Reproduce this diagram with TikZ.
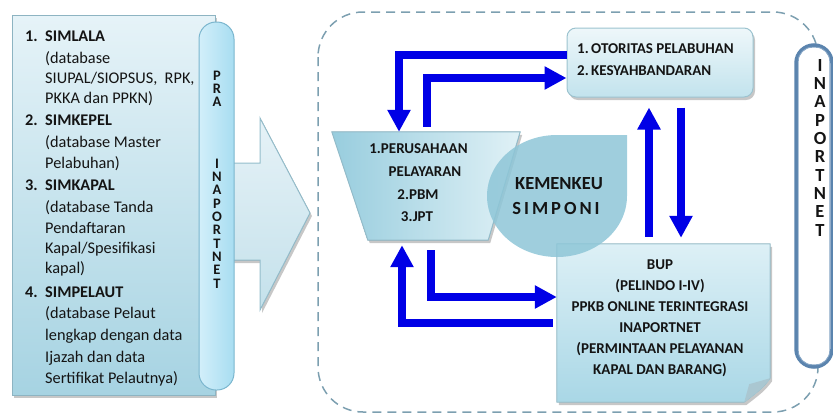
\documentclass[tikz,border=0pt]{standalone}
\usepackage{fontspec}
\setmainfont{Carlito}
\usetikzlibrary{arrows.meta,calc,shadows}
\definecolor{lbA}{HTML}{E6F3F8}
\definecolor{lbB}{HTML}{A6D3E2}
\definecolor{lbBorder}{HTML}{8DB4C2}
\definecolor{pillA}{HTML}{D2EFFA}
\definecolor{pillB}{HTML}{A8DDF1}
\definecolor{pillBorder}{HTML}{7BB6CE}
\definecolor{arrA}{HTML}{E6F2F7}
\definecolor{arrB}{HTML}{C4E1EB}
\definecolor{arrBorder}{HTML}{94BDCB}
\definecolor{otoA}{HTML}{EEF7FA}
\definecolor{otoB}{HTML}{C2E3ED}
\definecolor{otoBorder}{HTML}{9CC3CF}
\definecolor{trapA}{HTML}{98CDDE}
\definecolor{trapB}{HTML}{E0F1F6}
\definecolor{circC}{HTML}{8EC6D7}
\definecolor{bupA}{HTML}{DDF0F6}
\definecolor{bupB}{HTML}{A9D7E6}
\definecolor{bupBorder}{HTML}{A0C6D2}
\definecolor{arrowblue}{HTML}{0000E6}
\definecolor{dashc}{HTML}{7C9FB0}
\definecolor{ringc}{HTML}{5B84AE}
\definecolor{ringin}{HTML}{86A6C6}
\definecolor{txt}{HTML}{141414}
\tikzset{
  barrow/.style={draw=arrowblue, line width=8pt, line join=miter,
    -{Triangle[width=22pt,length=22pt]}},
  shad/.style={drop shadow={shadow xshift=2pt, shadow yshift=-3pt, fill=black, opacity=0.22}},
  lefttxt/.style={anchor=base west, text=txt, font=\fontsize{16.3}{18}\selectfont, inner sep=0pt},
  leftbold/.style={lefttxt, font=\bfseries\fontsize{16.3}{18}\selectfont},
  boldtxt/.style={text=txt, font=\bfseries\fontsize{15}{18}\selectfont, inner sep=0pt},
  pilltxt/.style={boldtxt, anchor=base, text height=9pt, text depth=0pt, font=\bfseries\fontsize{14.5}{14}\selectfont},
  ringtxt/.style={boldtxt, anchor=base, text height=11.5pt, text depth=0pt, font=\bfseries\fontsize{18.5}{18}\selectfont},
}
\begin{document}
\begin{tikzpicture}[x=1pt,y=-1pt]
\useasboundingbox (0,0) rectangle (833,416);

% dashed region
\draw[dashc, line width=1.5pt, dash pattern=on 9pt off 6pt, rounded corners=45pt] (318,12) rectangle (818,412);

% left list box
\node[shad, draw=lbBorder, line width=1pt, top color=lbA, bottom color=lbB,
      minimum width=203pt, minimum height=380pt, inner sep=0pt] (lbox) at (113.5,205) {};

\node[leftbold] (n1) at (25,41) {1.};
\node[leftbold] (l1) at (45,41) {SIMLALA};
\node[lefttxt] (l2) at (45,63) {(database};
\node[lefttxt] (l3) at (45,83) {SIUPAL/SIOPSUS,\ \ RPK,};
\node[lefttxt] (l4) at (45,103) {PKKA dan PPKN)};
\node[leftbold] (n2) at (25,125) {2.};
\node[leftbold] (l5) at (45,125) {SIMKEPEL};
\node[lefttxt] (l6) at (45,147) {(database Master};
\node[lefttxt] (l7) at (45,168) {Pelabuhan)};
\node[leftbold] (n3) at (25,190) {3.};
\node[leftbold] (l8) at (45,190) {SIMKAPAL};
\node[lefttxt] (l9) at (45,212) {(database Tanda};
\node[lefttxt] (l10) at (45,233) {Pendaftaran};
\node[lefttxt] (l11) at (45,253) {Kapal/Spesifikasi};
\node[lefttxt] (l12) at (45,273) {kapal)};
\node[leftbold] (n4) at (25,297) {4.};
\node[leftbold] (l13) at (45,297) {SIMPELAUT};
\node[lefttxt] (l14) at (45,318) {(database Pelaut};
\node[lefttxt] (l15) at (45,340) {lengkap dengan data};
\node[lefttxt] (l16) at (45,362) {Ijazah dan data};
\node[lefttxt] (l17) at (45,383) {Sertifikat Pelautnya)};

% big block arrow
\filldraw[shad, draw=arrBorder, line width=1pt, top color=arrA, bottom color=arrB]
  (225,163) -- (260,163) -- (260,118) -- (310,213) -- (260,310) -- (260,260) -- (225,260) -- cycle;

% PRA INAPORTNET pill
\node[draw=pillBorder, line width=1pt, left color=pillA, right color=pillB,
      rounded corners=17pt, minimum width=35pt, minimum height=368pt, inner sep=0pt] (prapill) at (216.5,206) {};
\foreach \ch/\yy [count=\k] in {P/80,R/93.3,A/106.6,I/168,N/181.3,A/194.6,P/208,O/221.3,R/234.6,T/248,N/261.3,E/274.6,T/288}
  \node[pilltxt] (pra\k) at (217,\yy) {\ch};

% right INAPORTNET pill
\node[draw=ringc, line width=3.5pt, fill=white, rounded corners=18pt,
      minimum width=36pt, minimum height=322pt, inner sep=0pt] (inap) at (814,206) {};
\draw[ringin, line width=0.9pt, rounded corners=14pt]
  ([shift={(4pt,-4pt)}]inap.north west) rectangle ([shift={(-4pt,4pt)}]inap.south east);
\foreach \ch/\yy [count=\k] in {I/71,N/89.3,A/107.6,P/126,O/144.3,R/162.6,T/181,N/199.3,E/217.6,T/236}
  \node[ringtxt] (ina\k) at (820,\yy) {\ch};

% Otoritas box
\node[shad, draw=otoBorder, line width=1pt, top color=otoA, bottom color=otoB, rounded corners=9pt,
      minimum width=186pt, minimum height=69pt, inner sep=0pt] (oto) at (660,62.5) {};
\node[boldtxt, anchor=base west] (o1n) at (577,53) {1.};
\node[boldtxt, anchor=base west] (o1) at (591,53) {OTORITAS PELABUHAN};
\node[boldtxt, anchor=base west] (o2n) at (577,75) {2.};
\node[boldtxt, anchor=base west] (o2) at (591,75) {KESYAHBANDARAN};

% trapezoid
\node[minimum width=188pt, minimum height=108pt, inner sep=0pt] (trap) at (426,186) {};
\filldraw[shad, draw=arrBorder, line width=1pt, left color=trapA, right color=trapB]
  (trap.north west) -- (trap.north east) -- ([xshift=-32pt]trap.south east)
  -- ([xshift=36pt]trap.south west) -- cycle;
\node[boldtxt] (t1) at (418.5,149) {1.PERUSAHAAN};
\node[boldtxt] (t2) at (425,172) {PELAYARAN};
\node[boldtxt] (t3) at (418,195) {2.PBM};
\node[boldtxt] (t4) at (417,217) {3.JPT};

% BUP box
\node[minimum width=213pt, minimum height=158pt, inner sep=0pt] (bup) at (663.5,323) {};
\filldraw[shad, draw=bupBorder, line width=1pt, top color=bupA, bottom color=bupB]
  (bup.north west) -- (bup.north east) -- ([yshift=24pt]bup.south east)
  .. controls ([shift={(-8pt,14pt)}]bup.south east) .. ([xshift=-26pt]bup.south east)
  -- (bup.south west) -- cycle;
\fill[bupB!80!black!60!bupA]
  ([yshift=24pt]bup.south east) -- ([shift={(-21pt,18pt)}]bup.south east) -- ([xshift=-26pt]bup.south east)
  .. controls ([shift={(-8pt,14pt)}]bup.south east) .. cycle;

% KEMENKEU shape
\fill[circC, opacity=0.85]
  (557,135) -- (627,135) -- (627,196)
  arc[start angle=0, end angle=180, x radius=70, y radius=61]
  arc[start angle=180, end angle=270, x radius=70, y radius=61] -- cycle;
\node[boldtxt, font=\bfseries\fontsize{18.5}{20}\selectfont] (kem) at (559,184) {KEMENKEU};
\node[boldtxt, font=\bfseries\fontsize{18.5}{20}\selectfont] (simp) at (556,208)
  {S\kern3pt I\kern3pt M\kern3pt P\kern3pt O\kern3pt N\kern3pt I};

\node[boldtxt, align=center, font=\bfseries\fontsize{15}{21}\selectfont] (buptxt) at (660,318)
  {BUP\\(PELINDO I-IV)\\PPKB ONLINE TERINTEGRASI\\INAPORTNET\\(PERMINTAAN PELAYANAN\\KAPAL DAN BARANG)};

% blue connectors
\draw[barrow] ([yshift=7.5pt]oto.west) -| ([xshift=-27pt]trap.north);
\draw[barrow] ([xshift=1pt,yshift=5pt]trap.north) |- ([yshift=-15.5pt]oto.west);
\draw[barrow] ([xshift=5pt,yshift=-10pt]trap.south) |- ([yshift=26pt]bup.west);
\draw[barrow] ([xshift=-4pt]bup.west) -| ([xshift=-24pt,yshift=-5pt]trap.south);
\draw[barrow] ([xshift=-14.5pt,yshift=7pt]bup.north) -- ([xshift=-11pt,yshift=-10pt]oto.south);
\draw[barrow] ([xshift=21pt,yshift=-10pt]oto.south) -- ([xshift=17.5pt,yshift=6pt]bup.north);
\end{tikzpicture}
\end{document}
